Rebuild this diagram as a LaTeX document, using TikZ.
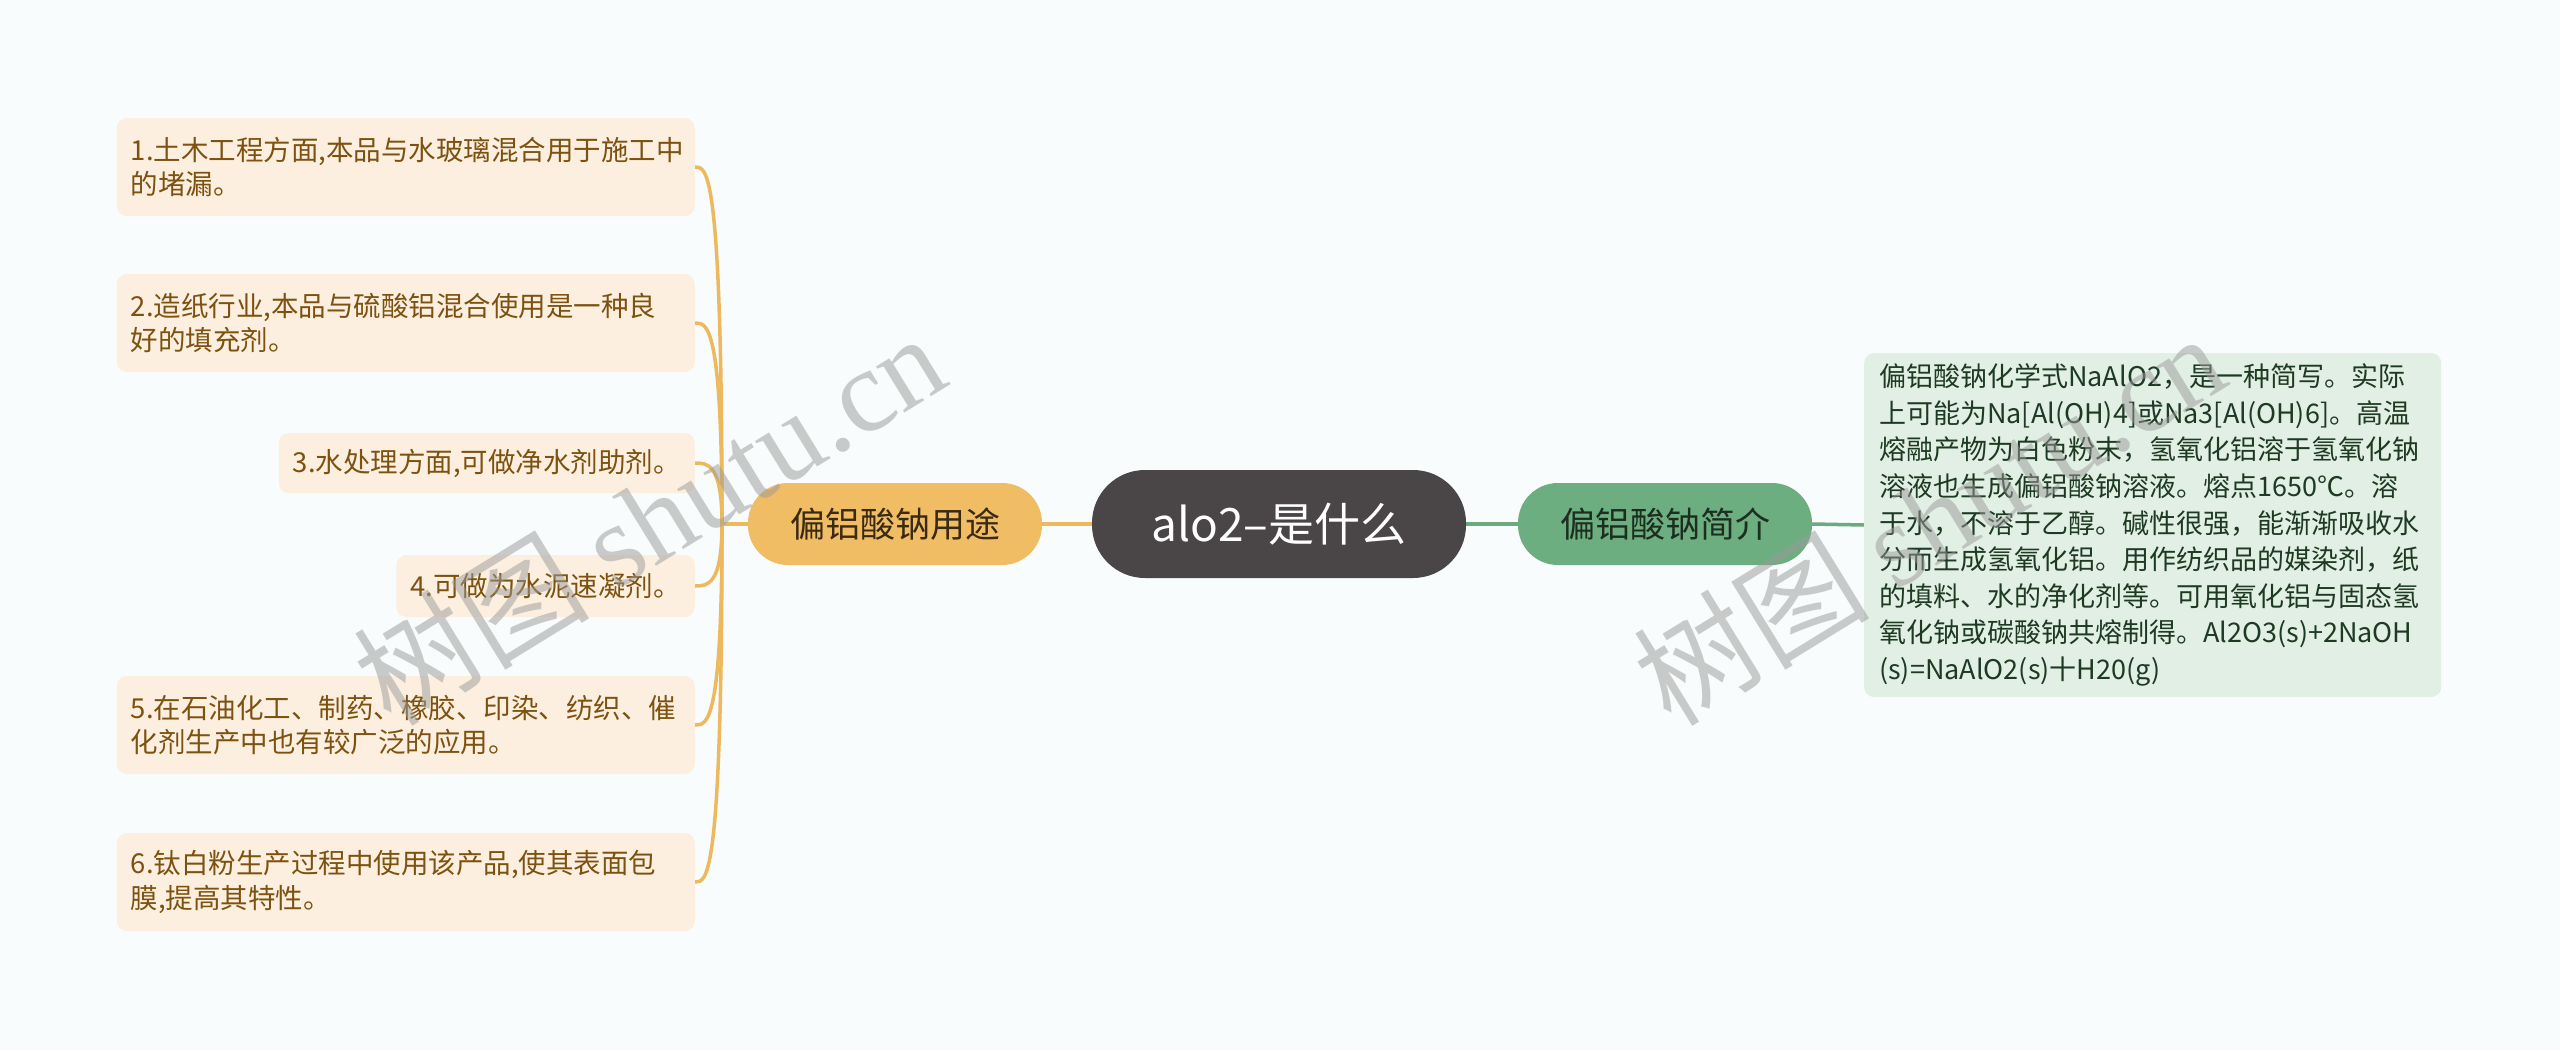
\documentclass[tikz,border=0pt]{standalone}
\usepackage{fontspec}
\setmainfont{Noto Sans CJK SC}
\newfontfamily\wmlatin{Liberation Serif}
\usetikzlibrary{calc}
\definecolor{bgc}{HTML}{F8FCFC}
\definecolor{leaffill}{HTML}{FCEFDF}
\definecolor{leaftext}{HTML}{7D5210}
\definecolor{orfill}{HTML}{F0BD65}
\definecolor{ortext}{HTML}{3A2A12}
\definecolor{cenfill}{HTML}{4A4546}
\definecolor{grfill}{HTML}{6DAE80}
\definecolor{grtext}{HTML}{1C2E20}
\definecolor{descfill}{HTML}{E2EFE4}
\definecolor{desctext}{HTML}{1E3A22}
\definecolor{orline}{HTML}{EDB95E}
\definecolor{grline}{HTML}{6DAA7E}
\definecolor{wmgray}{HTML}{9A9A9A}
\pgfdeclarelayer{bglayer}
\pgfdeclarelayer{edges}
\pgfdeclarelayer{wm}
\pgfsetlayers{bglayer,edges,main,wm}
\tikzset{
  leaf/.style={fill=leaffill, rounded corners=10, text=leaftext,
    font=\fontsize{27.5}{34.5}\selectfont, inner xsep=14, inner ysep=0,
    minimum height=98, anchor=east, align=left},
  leafw/.style={leaf, text width=550},
  mainbox/.style={rounded corners=40, minimum width=294, minimum height=82,
    font=\fontsize{35}{40}\selectfont, inner sep=0},
  cenbox/.style={fill=cenfill, text=white, rounded corners=53, minimum width=374,
    minimum height=108, font=\fontsize{46}{50}\selectfont, inner sep=0},
  descbox/.style={fill=descfill, text=desctext, rounded corners=10, anchor=west,
    text width=547, inner xsep=15, inner ysep=0, minimum height=344, align=left,
    font=\fontsize{27}{36.6}\selectfont},
  oline/.style={draw=orline, line width=3.5},
  gline/.style={draw=grline, line width=3.5},
  wmtext/.style={text=wmgray, text opacity=0.5, rotate=31.6,
    font=\fontsize{118}{120}\selectfont, inner sep=0}
}
\begin{document}
\begin{tikzpicture}[x=1pt,y=-1pt]
\begin{pgfonlayer}{bglayer}
\fill[bgc] (0,0) rectangle (2560,1050);
\end{pgfonlayer}
\useasboundingbox (0,0) rectangle (2560,1050);

\node[cenbox] (cen) at (1279,524) {alo2–是什么};
\node[mainbox, fill=orfill, text=ortext] (use) at (895,524) {偏铝酸钠用途};
\node[mainbox, fill=grfill, text=grtext] (intro) at (1665,524) {偏铝酸钠简介};

\node[leafw] (l1) at (695,167) {1.土木工程方面,本品与水玻璃混合用于施工中\\的堵漏。};
\node[leafw] (l2) at (695,323) {2.造纸行业,本品与硫酸铝混合使用是一种良\\好的填充剂。};
\node[leaf, minimum height=60, minimum width=414] (l3) at (695,463) {3.水处理方面,可做净水剂助剂。};
\node[leaf, minimum height=62, minimum width=298] (l4) at (695,586) {4.可做为水泥速凝剂。};
\node[leafw] (l5) at (695,725) {5.在石油化工、制药、橡胶、印染、纺织、催\\化剂生产中也有较广泛的应用。};
\node[leafw] (l6) at (695,882) {6.钛白粉生产过程中使用该产品,使其表面包\\膜,提高其特性。};

\node[descbox] (desc) at (1864,525) {偏铝酸钠化学式NaAlO2，是一种简写。实际\\上可能为Na[Al(OH)4]或Na3[Al(OH)6]。高温\\熔融产物为白色粉末，氢氧化铝溶于氢氧化钠\\溶液也生成偏铝酸钠溶液。熔点1650℃。溶\\于水，不溶于乙醇。碱性很强，能渐渐吸收水\\分而生成氢氧化铝。用作纺织品的媒染剂，纸\\的填料、水的净化剂等。可用氧化铝与固态氢\\氧化钠或碳酸钠共熔制得。Al2O3(s)+2NaOH\\(s)=NaAlO2(s)十H20(g)};

\coordinate (trunk) at (722,524);
\begin{pgfonlayer}{edges}
\draw[oline] (cen.west) -- (use.east);
\draw[oline] (use.west) -- (trunk);
\foreach \n in {l1,l2,l3,l4,l5,l6}
  \draw[oline] (trunk) .. controls (trunk |- \n.east) and ($(\n.east)+(12,0)$) .. (\n.east);
\draw[gline] (cen.east) -- (intro.west);
\draw[gline] (intro.east) -- (desc.west);
\end{pgfonlayer}

\begin{pgfonlayer}{wm}
\node[wmtext] (wm1) at (649,518) {树图 {\wmlatin shutu.cn}};
\node[wmtext] (wm2) at (1929,518) {树图 {\wmlatin shutu.cn}};
\end{pgfonlayer}
\end{tikzpicture}
\end{document}
